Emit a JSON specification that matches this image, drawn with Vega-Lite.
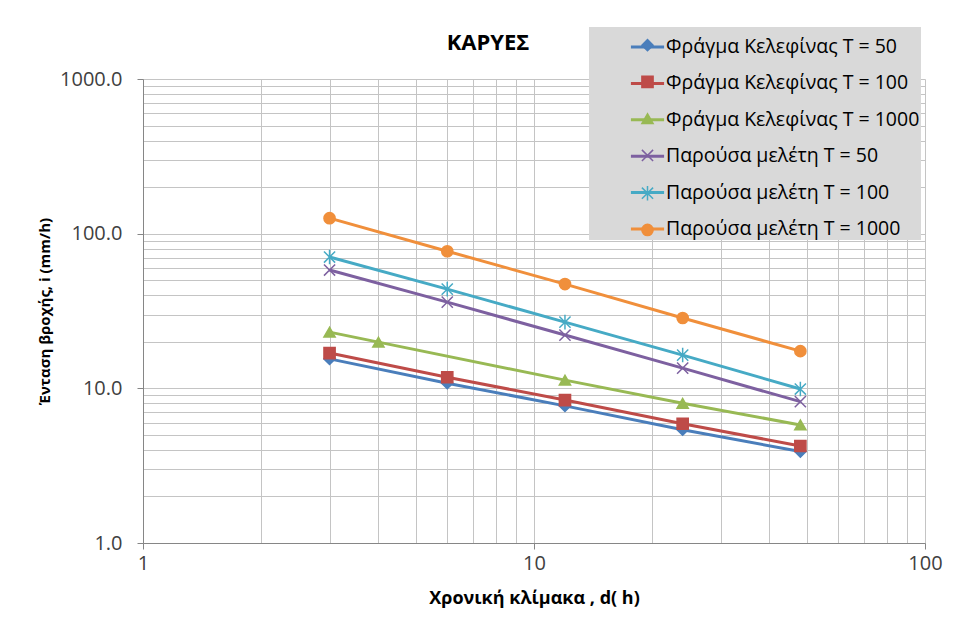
{
  "$schema": "https://vega.github.io/schema/vega-lite/v6.json",
  "width": 782,
  "height": 464,
  "autosize": "none",
  "padding": {"left": 143, "top": 79, "right": 31, "bottom": 83},
  "background": "white",
  "title": {"text": "ΚΑΡΥΕΣ", "font": "Open Sans", "fontSize": 22, "fontWeight": "bold", "color": "#000000", "anchor": "middle", "dx": -46, "offset": 0, "dy": 28},
  "config": {"view": {"stroke": null}},
  "resolve": {"legend": {"color": "independent", "shape": "independent", "stroke": "independent"}},
  "data": {"values": [
    {"series": "Φράγμα Κελεφίνας T = 50", "d": 3, "i": 15.5},
    {"series": "Φράγμα Κελεφίνας T = 50", "d": 6, "i": 10.8},
    {"series": "Φράγμα Κελεφίνας T = 50", "d": 12, "i": 7.7},
    {"series": "Φράγμα Κελεφίνας T = 50", "d": 24, "i": 5.4},
    {"series": "Φράγμα Κελεφίνας T = 50", "d": 48, "i": 3.9},
    {"series": "Φράγμα Κελεφίνας T = 100", "d": 3, "i": 16.9},
    {"series": "Φράγμα Κελεφίνας T = 100", "d": 6, "i": 11.8},
    {"series": "Φράγμα Κελεφίνας T = 100", "d": 12, "i": 8.4},
    {"series": "Φράγμα Κελεφίνας T = 100", "d": 24, "i": 5.9},
    {"series": "Φράγμα Κελεφίνας T = 100", "d": 48, "i": 4.24},
    {"series": "Φράγμα Κελεφίνας T = 1000", "d": 3, "i": 23.1},
    {"series": "Φράγμα Κελεφίνας T = 1000", "d": 4, "i": 19.9},
    {"series": "Φράγμα Κελεφίνας T = 1000", "d": 12, "i": 11.3},
    {"series": "Φράγμα Κελεφίνας T = 1000", "d": 24, "i": 8.0},
    {"series": "Φράγμα Κελεφίνας T = 1000", "d": 48, "i": 5.8},
    {"series": "Παρούσα μελέτη T = 50", "d": 3, "i": 58.2},
    {"series": "Παρούσα μελέτη T = 50", "d": 6, "i": 36.1},
    {"series": "Παρούσα μελέτη T = 50", "d": 12, "i": 22.1},
    {"series": "Παρούσα μελέτη T = 50", "d": 24, "i": 13.5},
    {"series": "Παρούσα μελέτη T = 50", "d": 48, "i": 8.2},
    {"series": "Παρούσα μελέτη T = 100", "d": 3, "i": 70.6},
    {"series": "Παρούσα μελέτη T = 100", "d": 6, "i": 43.8},
    {"series": "Παρούσα μελέτη T = 100", "d": 12, "i": 26.8},
    {"series": "Παρούσα μελέτη T = 100", "d": 24, "i": 16.4},
    {"series": "Παρούσα μελέτη T = 100", "d": 48, "i": 9.9},
    {"series": "Παρούσα μελέτη T = 1000", "d": 3, "i": 126},
    {"series": "Παρούσα μελέτη T = 1000", "d": 6, "i": 77},
    {"series": "Παρούσα μελέτη T = 1000", "d": 12, "i": 47.2},
    {"series": "Παρούσα μελέτη T = 1000", "d": 24, "i": 28.5},
    {"series": "Παρούσα μελέτη T = 1000", "d": 48, "i": 17.4}
  ]},
  "encoding": {
    "x": {
      "field": "d", "type": "quantitative",
      "scale": {"type": "log", "domain": [1, 100]},
      "axis": {
        "values": [1, 2, 3, 4, 5, 6, 7, 8, 9, 10, 20, 30, 40, 50, 60, 70, 80, 90, 100],
        "format": "d",
        "labelExpr": "(datum.value == 1 || datum.value == 10 || datum.value == 100) ? datum.label : ''",
        "title": "Χρονική κλίμακα , d( h)",
        "titleFont": "Open Sans", "titleFontSize": 18, "titleFontWeight": "bold", "titleColor": "#000000",
        "titlePadding": 16,
        "labelFont": "Open Sans", "labelFontSize": 20, "labelColor": "#404040",
        "labelPadding": 4, "labelFlush": false,
        "tickSize": 6, "tickColor": "#868686",
        "tickOpacity": {"condition": {"test": "datum.value == 1 || datum.value == 10 || datum.value == 100", "value": 1}, "value": 0},
        "domainColor": "#868686",
        "gridColor": "#c4c4c4", "gridWidth": 1
      }
    },
    "y": {
      "field": "i", "type": "quantitative",
      "scale": {"type": "log", "domain": [1, 1000]},
      "axis": {
        "values": [1, 2, 3, 4, 5, 6, 7, 8, 9, 10, 20, 30, 40, 50, 60, 70, 80, 90, 100, 200, 300, 400, 500, 600, 700, 800, 900, 1000],
        "format": ".1f",
        "labelExpr": "(datum.value == 1 || datum.value == 10 || datum.value == 100 || datum.value == 1000) ? datum.label : ''",
        "title": "Ένταση βροχής, i (mm/h)",
        "titleFont": "Open Sans", "titleFontSize": 15, "titleFontWeight": "bold", "titleColor": "#000000",
        "titlePadding": 7,
        "labelFont": "Open Sans", "labelFontSize": 20, "labelColor": "#404040",
        "labelPadding": 15,
        "tickSize": 6, "tickColor": "#868686",
        "tickOpacity": {"condition": {"test": "datum.value == 1 || datum.value == 10 || datum.value == 100 || datum.value == 1000", "value": 1}, "value": 0},
        "domainColor": "#868686",
        "gridColor": "#c4c4c4", "gridWidth": 1
      }
    }
  },
  "layer": [
    {
      "mark": {"type": "line", "strokeWidth": 3},
      "encoding": {
        "color": {
          "field": "series", "type": "nominal",
          "scale": {
            "domain": ["Φράγμα Κελεφίνας T = 50", "Φράγμα Κελεφίνας T = 100", "Φράγμα Κελεφίνας T = 1000", "Παρούσα μελέτη T = 50", "Παρούσα μελέτη T = 100", "Παρούσα μελέτη T = 1000"],
            "range": ["#4A7EBB", "#BE4B48", "#98B954", "#7D60A0", "#46AAC5", "#F08F3B"]
          },
          "legend": {
            "title": null,
            "orient": "none",
            "legendX": 446,
            "legendY": -52,
            "fillColor": "#d9d9d9",
            "padding": 1.5,
            "symbolType": "stroke",
            "symbolSize": 1100,
            "symbolStrokeWidth": 3,
            "symbolOffset": 38.5,
            "rowPadding": 8.4,
            "labelOffset": 0,
            "labelFont": "Open Sans", "labelFontSize": 19.5, "labelColor": "#000000",
            "labelLimit": 400
          }
        }
      }
    },
    {
      "mark": {"type": "point", "filled": true, "opacity": 1, "size": 125, "strokeWidth": 1.5},
      "encoding": {
        "color": {
          "field": "series", "type": "nominal",
          "scale": {
            "domain": ["Φράγμα Κελεφίνας T = 50", "Φράγμα Κελεφίνας T = 100", "Φράγμα Κελεφίνας T = 1000", "Παρούσα μελέτη T = 50", "Παρούσα μελέτη T = 100", "Παρούσα μελέτη T = 1000"],
            "range": ["#4A7EBB", "#BE4B48", "#98B954", "#7D60A0", "#46AAC5", "#F08F3B"]
          },
          "legend": {
            "title": null,
            "orient": "none",
            "legendX": 446,
            "legendY": -44.8,
            "padding": 1.5,
            "symbolSize": 125,
            "symbolStrokeWidth": 1.5,
            "symbolOffset": 47.5,
            "rowPadding": 16.75,
            "labelOffset": 0,
            "labelExpr": "''",
            "labelFont": "Open Sans", "labelFontSize": 19
          }
        },
        "shape": {
          "field": "series", "type": "nominal",
          "scale": {
            "domain": ["Φράγμα Κελεφίνας T = 50", "Φράγμα Κελεφίνας T = 100", "Φράγμα Κελεφίνας T = 1000", "Παρούσα μελέτη T = 50", "Παρούσα μελέτη T = 100", "Παρούσα μελέτη T = 1000"],
            "range": ["diamond", "square", "triangle-up", "M-1,-1L1,1M-1,1L1,-1", "M-1,-1L1,1M-1,1L1,-1M0,-1.3V1.3", "circle"]
          },
          "legend": {
            "title": null,
            "orient": "none",
            "legendX": 446,
            "legendY": -44.8,
            "padding": 1.5,
            "symbolSize": 125,
            "symbolStrokeWidth": 1.5,
            "symbolOffset": 47.5,
            "rowPadding": 16.75,
            "labelOffset": 0,
            "labelExpr": "''",
            "labelFont": "Open Sans", "labelFontSize": 19
          }
        },
        "stroke": {
          "field": "series", "type": "nominal",
          "scale": {
            "domain": ["Φράγμα Κελεφίνας T = 50", "Φράγμα Κελεφίνας T = 100", "Φράγμα Κελεφίνας T = 1000", "Παρούσα μελέτη T = 50", "Παρούσα μελέτη T = 100", "Παρούσα μελέτη T = 1000"],
            "range": ["#4A7EBB", "#BE4B48", "#98B954", "#7D60A0", "#46AAC5", "#F08F3B"]
          },
          "legend": {
            "title": null,
            "orient": "none",
            "legendX": 446,
            "legendY": -44.8,
            "padding": 1.5,
            "symbolSize": 125,
            "symbolStrokeWidth": 1.5,
            "symbolOffset": 47.5,
            "rowPadding": 16.75,
            "labelOffset": 0,
            "labelExpr": "''",
            "labelFont": "Open Sans", "labelFontSize": 19
          }
        }
      }
    }
  ]
}
